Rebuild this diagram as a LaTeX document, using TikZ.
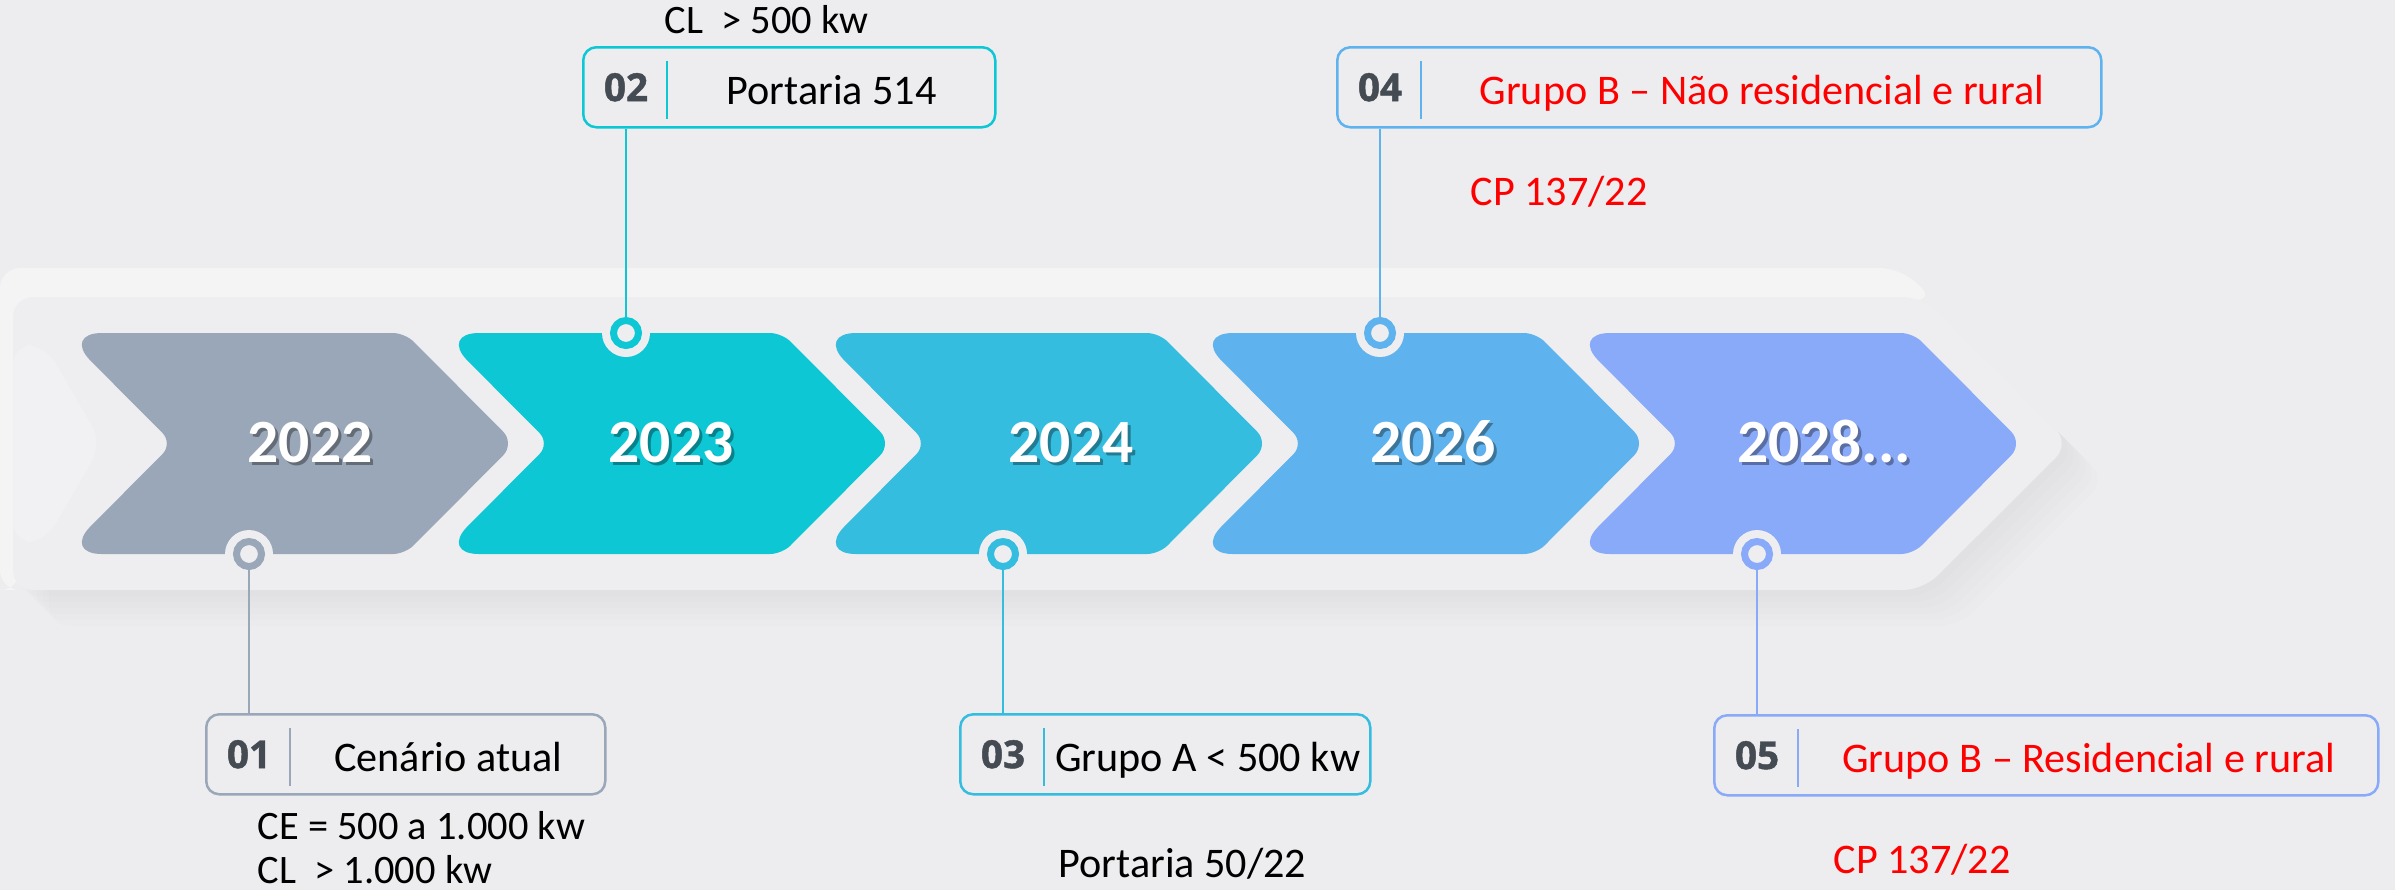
\documentclass[tikz,border=0pt]{standalone}
\usepackage{fontspec}
\setmainfont{Carlito}
\newfontfamily\numfont{Open Sans}[BoldFeatures={FakeBold=1.2}]
\usepackage{tikz}
\usetikzlibrary{calc,positioning}

\definecolor{bgc}{HTML}{EDEDF0}
\definecolor{bandc}{HTML}{EEEEF0}
\definecolor{hlc}{HTML}{F4F4F5}
\definecolor{numc}{HTML}{454B53}
\definecolor{ca}{HTML}{9AA7B8}
\definecolor{cb}{HTML}{0DC8D4}
\definecolor{cc}{HTML}{35BDE0}
\definecolor{cd}{HTML}{5EB3EE}
\definecolor{ce}{HTML}{89A9F9}
\newcommand{\lastyr}{2028...}

\begin{document}
\begin{tikzpicture}[x=0.1mm, y=-0.1mm,
  yr/.style={anchor=base, text=white, inner sep=0pt, font=\bfseries\fontsize{17.5}{21}\selectfont},
  txt/.style={anchor=base, inner sep=0pt, font=\fontsize{12}{14}\selectfont},
  small/.style={anchor=base west, inner sep=0pt, font=\fontsize{11.5}{13}\selectfont}]
\tikzstyle{tbox}=[draw, rounded corners=1.3mm, line width=0.25mm, minimum height=8mm, inner sep=0pt, anchor=north west]
\tikzstyle{num}=[font=\numfont\bfseries\fontsize{11}{13}\selectfont, text=numc, inner sep=0pt]
\tikzstyle{hole}=[circle, fill=bandc, minimum size=4.8mm, inner sep=0pt]
\tikzstyle{ring}=[circle, line width=0.7mm, minimum size=2.5mm, inner sep=0pt]
\useasboundingbox (0,0) rectangle (2395,890);
\fill[bgc] (0,0) rectangle (2395,890);
\fill[hlc, rounded corners=2mm] (0,268) -- (1900,268) -- (1935,300) -- (20,300) -- (20,590) -- (0,590) -- cycle;
\foreach \d in {6,12,18,24,30,36}{
\fill[black, opacity=0.009, rounded corners=2mm, shift={(\d,\d)}] (13,297) -- (1923,297) -- (2070,443.5) -- (1923,590) -- (13,590) -- cycle;
}
\fill[bandc, rounded corners=2mm] (13,297) -- (1923,297) -- (2070,443.5) -- (1923,590) -- (13,590) -- cycle;
\fill[hlc, opacity=0.6, rounded corners=2mm] (13,345) -- (45,345) -- (102,443.5) -- (45,542) -- (13,542) -- cycle;
\foreach \i/\c/\yv/\tx in {0/ca/2022/310, 1/cb/2023/671, 2/cc/2024/1071, 3/cd/2026/1433, 4/ce/\lastyr/1824}{
\pgfmathsetmacro{\xo}{63+377*\i}
\fill[\c] (\xo+170,333) [rounded corners=1.2mm] -- (\xo+342,333) [rounded corners=1.7mm] -- (\xo+452,443.5) [rounded corners=1.2mm] -- (\xo+342,554) [rounded corners=3.9mm] -- (\xo,554) [rounded corners=1.5mm] -- (\xo+110,443.5) [rounded corners=3.9mm] -- (\xo,333) [sharp corners] -- cycle;
\node[yr, text=black, opacity=0.35] (ys\i) at (\tx+3,465) {\yv};
\node[yr] (y\i) at (\tx,462) {\yv};
}
\foreach \i/\c/\y in {1/ca/554, 2/cb/333, 3/cc/554, 4/cd/333, 5/ce/554}{
\node[hole] (h\i) at ({249+377*(\i-1)},\y) {};
\node[ring, draw=\c] (r\i) at (h\i) {};
}
\foreach \i/\c/\tp/\w/\a/\tc/\tx in {1/ca/713/399/north/black/Cenário atual, 2/cb/46/412/south/black/Portaria 514, 3/cc/713/410/north/black/Grupo A < 500 kw, 4/cd/46/764/south/red/Grupo B – Não residencial e rural, 5/ce/714/664/north/red/Grupo B – Residencial e rural}{
\node[tbox, draw=\c, minimum width=\w*0.1mm] (b\i) at ({205+377*(\i-1)},\tp) {};
\coordinate (s\i) at ([xshift=8.5mm]b\i.west);
\draw[\c, line width=0.2mm] ($(s\i |- b\i.north)+(0,15)$) -- ($(s\i |- b\i.south)+(0,-10)$);
\node[num] (n\i) at ([xshift=4.4mm]b\i.west) {0\i};
\node[txt, text=\tc] (t\i) at ($(s\i)!0.5!(b\i.east)+(0,17)$) {\tx};
\draw[\c, line width=0.25mm] (r\i) -- (r\i |- b\i.\a);
}
\node[small] (cl2) at (664,33) {CL\ \ > 500 kw};
\node[small] (ce1) at (257,839) {CE = 500 a 1.000 kw};
\node[small] (cl1) at (257,883) {CL\ \ > 1.000 kw};
\node[txt, anchor=base west] (p3) at (1058,877) {Portaria 50/22};
\node[txt, anchor=base west, text=red] (cp4) at (1470,205) {CP 137/22};
\node[txt, anchor=base west, text=red] (cp5) at (1833,873) {CP 137/22};
\end{tikzpicture}
\end{document}
